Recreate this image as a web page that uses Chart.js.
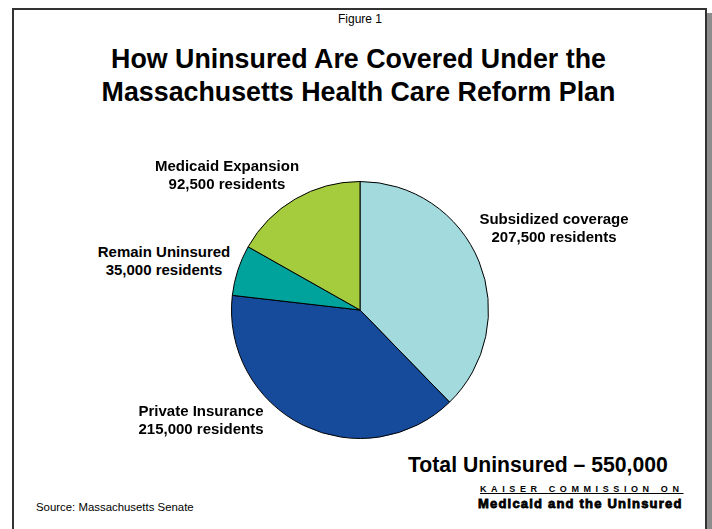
<!DOCTYPE html>
<html>
<head>
<meta charset="utf-8">
<script src="https://cdn.jsdelivr.net/npm/chart.js@4/dist/chart.umd.min.js"></script>
<style>
  html, body { margin: 0; padding: 0; background: #fff; overflow: hidden; }
  body { width: 712px; height: 529px; position: relative; font-family: "Liberation Sans", Arial, sans-serif; color: #000; }
  #frame { position: absolute; left: 12px; top: 8px; width: 691px; height: 600px;
           border: 2px solid #333; box-shadow: 6px 5px 0 #8c8c8c; background: #fff; }
  .t { position: absolute; white-space: nowrap; text-align: center; }
  #fig { left: 0; width: 720px; top: 12px; font-size: 12px; }
  #title { left: 0; width: 717px; top: 43px; font-size: 26.8px; font-weight: bold; line-height: 33px; }
  .lbl { font-size: 15px; font-weight: bold; line-height: 18px; transform: translateX(-50%); }
  #total { left: 408px; top: 453px; font-size: 21.2px; font-weight: bold; }
  #source { left: 36px; top: 501px; font-size: 11.4px; }
  #k1 { left: 480px; top: 484px; font-size: 9px; font-weight: bold; letter-spacing: 4.6px; text-decoration: underline; }
  #k2 { left: 478px; top: 496px; font-size: 13px; font-weight: bold; letter-spacing: 1.2px; -webkit-text-stroke: 0.8px #000; }
  #wrap { position: absolute; left: 231px; top: 181px; width: 258px; height: 258px; }
</style>
</head>
<body>
<div id="frame"></div>
<div class="t" id="fig">Figure 1</div>
<div class="t" id="title">How Uninsured Are Covered Under the<br>Massachusetts Health Care Reform Plan</div>
<div id="wrap"><canvas id="pie"></canvas></div>
<div id="labels"></div>
<div class="t" id="total">Total Uninsured – 550,000</div>
<div class="t" id="source">Source: Massachusetts Senate</div>
<div class="t" id="k1">KAISER COMMISSION ON</div>
<div class="t" id="k2">Medicaid and the Uninsured</div>
<script>
"use strict";
const categories = ['Subsidized coverage', 'Private Insurance', 'Remain Uninsured', 'Medicaid Expansion'];
const residents = [207500, 215000, 35000, 92500];
const colors = ['#a3dadd', '#164b9c', '#00a39b', '#a4cc3c'];
// where each slice label sits (centre x, top y)
const labelPos = [[554, 210], [201, 402], [164, 243], [227, 157]];

labelPos.forEach((p, i) => {
    let d = document.createElement('div');
    d.className = 't lbl';
    d.style.left = p[0] + 'px';
    d.style.top = p[1] + 'px';
    d.innerHTML = categories[i] + '<br>' + residents[i].toLocaleString('en-US') + ' residents';
    document.getElementById('labels').appendChild(d);
});

new Chart(document.getElementById('pie'), {
    type: 'pie',
    data: {
        labels: categories,
        datasets: [{
            data: residents,
            backgroundColor: colors,
            borderColor: '#000',
            borderWidth: 1
        }]
    },
    options: {
        responsive: true,
        maintainAspectRatio: false,
        animation: false,
        layout: { padding: 0 },
        plugins: { legend: { display: false }, tooltip: { enabled: false } }
    }
});
</script>
</body>
</html>
